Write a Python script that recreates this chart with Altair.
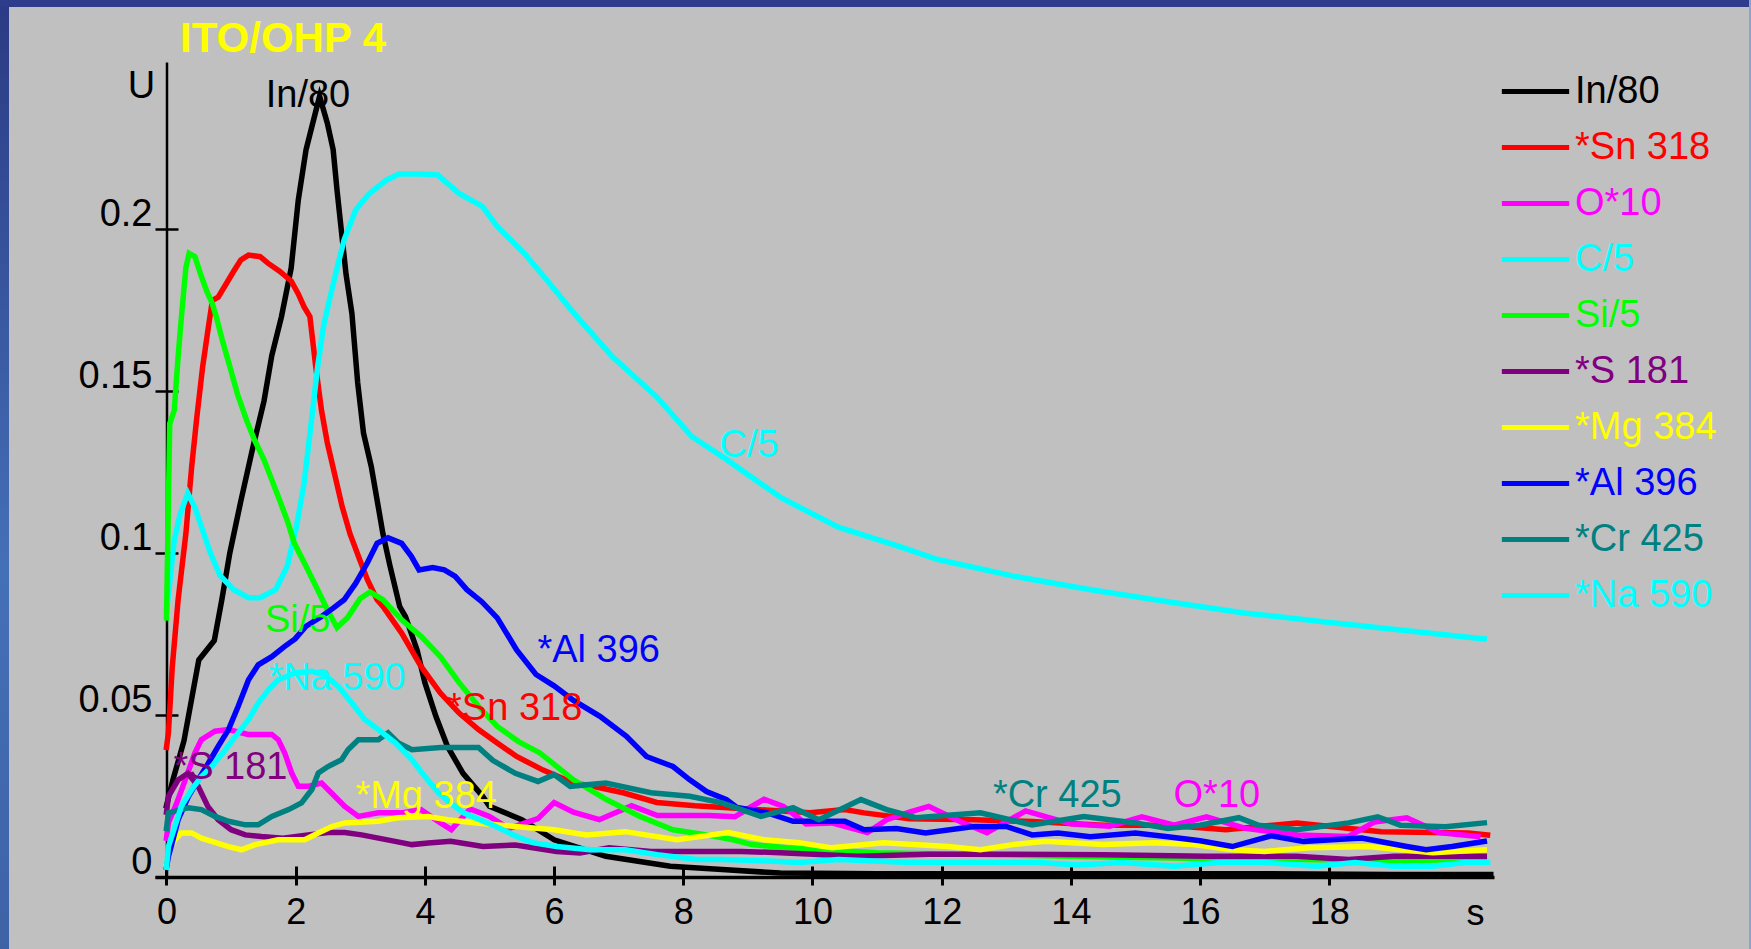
import altair as alt
import pandas as pd

# Series names (legend order) and their line colours
SERIES = ["In/80", "*Sn 318", "O*10", "C/5", "Si/5", "*S 181", "*Mg 384", "*Al 396", "*Cr 425", "*Na 590"]
COLORS = ["#000000", "#FF0000", "#FF00FF", "#00FFFF", "#00FF00", "#800080", "#FFFF00", "#0000FF", "#008080", "#00FFFF"]

# Time (s) and intensity (U) for each series
T_IN = [0, 0.1, 0.27, 0.5, 0.74, 0.86, 0.98, 1.15, 1.33, 1.51, 1.63, 1.78, 1.93, 2.04, 2.16, 2.25, 2.37, 2.49, 2.58, 2.64,
        2.70, 2.78, 2.87, 2.96, 3.05, 3.17, 3.26, 3.35, 3.46, 3.61, 3.70, 3.88, 4.0, 4.17, 4.35, 4.59, 4.89, 5.0, 5.5, 6.0,
        6.8, 7.8, 8.6, 9.5, 11, 13, 15, 17, 19, 20.5]
V_IN = [0.022, 0.03, 0.042, 0.067, 0.073, 0.086, 0.100, 0.116, 0.132, 0.147, 0.161, 0.173, 0.188, 0.209, 0.2245, 0.2316,
        0.241, 0.2327, 0.2245, 0.212, 0.2008, 0.186, 0.174, 0.1525, 0.137, 0.1267, 0.1164, 0.106, 0.096, 0.0835, 0.0804,
        0.070, 0.060, 0.0496, 0.0403, 0.032, 0.025, 0.0218, 0.0177, 0.0115, 0.0064, 0.0033, 0.0023, 0.0012, 0.001, 0.001,
        0.001, 0.001, 0.0008, 0.0008]

T_SN = [0, 0.03, 0.09, 0.18, 0.30, 0.39, 0.47, 0.56, 0.65, 0.71, 0.80, 0.92, 1.04, 1.15, 1.27, 1.45, 1.57, 1.75, 1.93, 2.04,
        2.13, 2.22, 2.31, 2.40, 2.49, 2.6, 2.72, 2.84, 2.99, 3.11, 3.26, 3.35, 3.64, 3.94, 4.24, 4.53, 4.83, 5.12, 5.42, 5.83,
        6.3, 6.6, 7.07, 7.59, 8.18, 9.0, 9.96, 10.5, 10.8, 11.5, 12.5, 13.4, 14.5, 15.5, 16.4, 17.5, 18.8, 20.15, 20.45]
V_SN = [0.04, 0.0445, 0.065, 0.0856, 0.106, 0.1267, 0.142, 0.1576, 0.170, 0.178, 0.179, 0.183, 0.187, 0.1905, 0.192, 0.1915,
        0.1895, 0.187, 0.184, 0.180, 0.176, 0.173, 0.1576, 0.144, 0.134, 0.1246, 0.1143, 0.106, 0.098, 0.0918, 0.0856, 0.0835,
        0.0753, 0.065, 0.0568, 0.0506, 0.0455, 0.0414, 0.0372, 0.033, 0.029, 0.028, 0.026, 0.023, 0.022, 0.021, 0.0198,
        0.0208, 0.0198, 0.018, 0.0177, 0.0171, 0.016, 0.016, 0.0146, 0.0167, 0.014, 0.0136, 0.013]

T_O = [0, 0.03, 0.16, 0.29, 0.44, 0.54, 0.75, 0.96, 1.26, 1.63, 1.73, 1.83, 1.94, 2.04, 2.19, 2.40, 2.55, 2.76, 2.97, 3.28,
       3.64, 3.94, 4.24, 4.41, 4.7, 5.0, 5.3, 5.75, 6.0, 6.3, 6.7, 7.2, 7.6, 8.4, 8.8, 9.06, 9.25, 9.55, 9.9, 10.3, 10.85,
       11.15, 11.5, 11.8, 12.3, 12.7, 13.3, 14.0, 14.6, 15.1, 15.6, 16.1, 16.7, 17.5, 18.3, 18.7, 19.2, 19.7, 20.3]
V_O = [0.012, 0.0167, 0.0229, 0.030, 0.0383, 0.0424, 0.045, 0.0455, 0.044, 0.044, 0.0424, 0.0383, 0.032, 0.028, 0.028, 0.029,
       0.026, 0.0218, 0.0187, 0.0198, 0.0198, 0.0208, 0.0167, 0.0146, 0.021, 0.0187, 0.015, 0.018, 0.023, 0.020, 0.0177,
       0.022, 0.019, 0.019, 0.0186, 0.0218, 0.024, 0.0218, 0.0164, 0.0167, 0.0137, 0.0177, 0.020, 0.0218, 0.017, 0.0137,
       0.0204, 0.0164, 0.0157, 0.0186, 0.016, 0.0186, 0.015, 0.013, 0.0125, 0.017, 0.0183, 0.0137, 0.0125]

T_C = [0, 0.12, 0.21, 0.33, 0.44, 0.56, 0.68, 0.83, 1.04, 1.27, 1.45, 1.69, 1.87, 2.01, 2.13, 2.25, 2.34, 2.43, 2.52, 2.64,
       2.75, 2.93, 3.14, 3.41, 3.6, 3.94, 4.2, 4.53, 4.89, 5.12, 5.54, 5.9, 6.31, 6.9, 7.6, 8.13, 8.66, 9.52, 10.4, 11.35,
       11.94, 13.13, 14.31, 15.5, 16.68, 17.87, 19.06, 20.4]
V_C = [0.082, 0.104, 0.112, 0.1185, 0.114, 0.107, 0.100, 0.093, 0.0887, 0.0862, 0.0862, 0.0887, 0.096, 0.108, 0.1216, 0.142,
       0.1576, 0.170, 0.178, 0.188, 0.1967, 0.206, 0.211, 0.2152, 0.217, 0.217, 0.2167, 0.211, 0.207, 0.2008, 0.1925, 0.184,
       0.174, 0.1607, 0.148, 0.136, 0.129, 0.117, 0.108, 0.102, 0.098, 0.0928, 0.0887, 0.085, 0.0815, 0.0789, 0.0763, 0.0735]

T_SI = [0, 0.05, 0.12, 0.18, 0.24, 0.30, 0.35, 0.44, 0.53, 0.62, 0.71, 0.77, 0.86, 0.98, 1.10, 1.24, 1.36, 1.51, 1.63, 1.75,
        1.87, 1.98, 2.16, 2.34, 2.49, 2.64, 2.8, 3.0, 3.15, 3.35, 3.64, 3.94, 4.24, 4.53, 4.83, 5.12, 5.45, 5.78, 6.3, 6.81,
        7.33, 7.84, 8.36, 8.77, 9.06, 9.6, 11, 13, 15, 17, 19, 20.4]
V_SI = [0.08, 0.14, 0.144, 0.1607, 0.175, 0.188, 0.1925, 0.1915, 0.186, 0.181, 0.177, 0.173, 0.166, 0.1576, 0.149, 0.141,
        0.135, 0.1288, 0.1226, 0.1164, 0.110, 0.103, 0.0959, 0.0887, 0.0825, 0.077, 0.080, 0.086, 0.088, 0.0856, 0.0794,
        0.0743, 0.068, 0.060, 0.0527, 0.0465, 0.0418, 0.0383, 0.030, 0.0239, 0.0187, 0.0146, 0.013, 0.0115, 0.010, 0.009,
        0.0075, 0.0068, 0.006, 0.0055, 0.005, 0.0055]

T_S = [0, 0.03, 0.18, 0.33, 0.49, 0.64, 0.8, 1.0, 1.22, 1.47, 1.8, 2.19, 2.5, 2.76, 3.02, 3.28, 3.54, 3.8, 4.05, 4.4, 4.9,
       5.4, 6.04, 6.4, 6.85, 7.5, 8.9, 9.5, 10.7, 11.8, 13.0, 14.5, 16.1, 17.5, 18.3, 19.0, 20.4]
V_S = [0.02, 0.0249, 0.030, 0.032, 0.028, 0.0218, 0.0177, 0.0146, 0.013, 0.0125, 0.012, 0.013, 0.0137, 0.0137, 0.013, 0.012,
       0.011, 0.010, 0.0105, 0.011, 0.0094, 0.0099, 0.0079, 0.0074, 0.009, 0.0079, 0.0079, 0.0075, 0.0064, 0.007, 0.007,
       0.0069, 0.0064, 0.0064, 0.0054, 0.0064, 0.0064]

T_MG = [0, 0.05, 0.13, 0.23, 0.39, 0.54, 0.70, 0.96, 1.16, 1.37, 1.73, 2.14, 2.35, 2.56, 2.76, 3.28, 3.58, 4.05, 4.35, 4.8,
        5.4, 6.0, 6.5, 7.1, 7.9, 8.7, 9.25, 9.8, 10.3, 11.1, 12.1, 12.6, 13.1, 13.6, 14.5, 15.3, 15.9, 16.5, 17.0, 17.7,
        18.6, 19.6, 20.4]
V_MG = [0.004, 0.009, 0.0115, 0.0136, 0.0136, 0.012, 0.011, 0.0094, 0.0084, 0.010, 0.0115, 0.0115, 0.0136, 0.0156, 0.0167,
        0.0172, 0.0183, 0.0187, 0.0177, 0.0167, 0.0156, 0.0146, 0.013, 0.014, 0.0115, 0.0137, 0.0115, 0.0106, 0.009, 0.0106,
        0.0094, 0.0084, 0.010, 0.011, 0.010, 0.0106, 0.010, 0.0084, 0.0079, 0.009, 0.0094, 0.0075, 0.0084]

T_AL = [0, 0.03, 0.1, 0.18, 0.34, 0.49, 0.65, 0.80, 0.96, 1.11, 1.27, 1.42, 1.63, 1.83, 1.99, 2.16, 2.4, 2.58, 2.75, 2.93,
        3.11, 3.26, 3.43, 3.64, 3.79, 3.91, 4.12, 4.3, 4.47, 4.65, 4.88, 5.12, 5.42, 5.72, 6.0, 6.3, 6.71, 7.12, 7.43, 7.84,
        8.1, 8.36, 8.67, 8.83, 9.3, 9.7, 10.5, 10.8, 11.3, 11.75, 12.5, 13.0, 13.4, 13.8, 14.3, 15.0, 15.5, 16.0, 16.5, 17.1,
        17.6, 18.5, 19.2, 19.5, 19.9, 20.4]
V_AL = [0.003, 0.0064, 0.0115, 0.0177, 0.0249, 0.030, 0.0352, 0.0403, 0.0455, 0.0527, 0.0609, 0.0655, 0.068, 0.0712, 0.0735,
        0.0774, 0.0804, 0.0830, 0.0856, 0.0907, 0.097, 0.103, 0.1047, 0.103, 0.099, 0.0948, 0.0955, 0.0948, 0.0928, 0.0887,
        0.085, 0.080, 0.0701, 0.0625, 0.059, 0.0545, 0.0496, 0.0434, 0.0372, 0.0341, 0.030, 0.0264, 0.0239, 0.0215, 0.0198,
        0.0172, 0.0172, 0.0146, 0.015, 0.0136, 0.0156, 0.0156, 0.013, 0.0136, 0.0124, 0.0136, 0.0124, 0.0112, 0.0094, 0.0127,
        0.011, 0.012, 0.0094, 0.0084, 0.0094, 0.011]

T_CR = [0, 0.03, 0.34, 0.54, 0.75, 0.96, 1.22, 1.42, 1.63, 1.89, 2.09, 2.25, 2.35, 2.5, 2.71, 2.81, 2.97, 3.28, 3.43, 3.59,
        3.8, 4.24, 4.83, 5.05, 5.4, 5.75, 6.0, 6.25, 6.8, 7.5, 8.1, 8.6, 9.2, 9.7, 10.1, 10.75, 11.15, 11.6, 12.6, 13.4,
        14.2, 15.0, 15.5, 16.0, 16.6, 16.9, 17.5, 18.3, 18.75, 19.1, 19.8, 20.4]
V_CR = [0.015, 0.0198, 0.0214, 0.0208, 0.0187, 0.0172, 0.0161, 0.0161, 0.0187, 0.0208, 0.0229, 0.027, 0.0321, 0.0341, 0.0362,
        0.0393, 0.0424, 0.0424, 0.0445, 0.0414, 0.0393, 0.040, 0.040, 0.036, 0.032, 0.0295, 0.0316, 0.028, 0.029, 0.026,
        0.0249, 0.0229, 0.0187, 0.0214, 0.0177, 0.0239, 0.0208, 0.0183, 0.0198, 0.0161, 0.0187, 0.0167, 0.015, 0.016, 0.0183,
        0.016, 0.0146, 0.0167, 0.0186, 0.016, 0.0155, 0.0167]

T_NA = [0, 0.03, 0.13, 0.23, 0.39, 0.54, 0.70, 0.91, 1.11, 1.27, 1.42, 1.58, 1.73, 1.99, 2.25, 2.45, 2.66, 2.87, 3.07, 3.28,
        3.54, 3.8, 4.0, 4.21, 4.39, 4.6, 4.85, 5.1, 5.42, 5.67, 6.04, 6.56, 7.1, 7.6, 8.2, 8.6, 9.2, 9.8, 10.4, 11.5, 12.5,
        13.5, 14.1, 14.8, 15.6, 16.3, 17.0, 17.8, 18.4, 19.0, 19.6, 20.1, 20.45]
V_NA = [0.003, 0.0094, 0.0156, 0.0218, 0.027, 0.031, 0.0341, 0.0393, 0.0445, 0.0486, 0.0537, 0.0578, 0.0609, 0.063, 0.0635,
        0.0624, 0.0588, 0.0537, 0.0486, 0.0455, 0.0414, 0.0362, 0.031, 0.026, 0.0229, 0.0198, 0.0177, 0.0156, 0.0125, 0.0106,
        0.0094, 0.0084, 0.0084, 0.0069, 0.0054, 0.0054, 0.005, 0.0045, 0.0054, 0.0045, 0.0045, 0.0045, 0.0037, 0.0045, 0.0033,
        0.0045, 0.0045, 0.0033, 0.0045, 0.0033, 0.0033, 0.0045, 0.0045]

# In-plot series labels and where they sit (t, U)
LABEL_TEXT = ["In/80", "C/5", "Si/5", "*Na 590", "*Sn 318", "*Al 396", "*S 181", "*Mg 384", "*Cr 425", "O*10"]
LABEL_T = [2.19, 9.02, 2.03, 2.64, 5.39, 6.69, 0.99, 4.02, 13.79, 16.26]
LABEL_V = [0.2411, 0.1331, 0.0791, 0.0612, 0.0520, 0.0698, 0.0337, 0.0248, 0.0251, 0.0249]

X_TICKS = [0, 2, 4, 6, 8, 10, 12, 14, 16, 18]
Y_TICKS = [0, 0.05, 0.1, 0.15, 0.2]

T_ALL = [T_IN, T_SN, T_O, T_C, T_SI, T_S, T_MG, T_AL, T_CR, T_NA]
V_ALL = [V_IN, V_SN, V_O, V_C, V_SI, V_S, V_MG, V_AL, V_CR, V_NA]

rows = []
for name, ts, vs in zip(SERIES, T_ALL, V_ALL):
    for t, v in zip(ts, vs):
        rows.append({"series": name, "t": t, "v": v})
df = pd.DataFrame(rows)
labels_df = pd.DataFrame({"series": LABEL_TEXT, "t": LABEL_T, "v": LABEL_V})

PLOT_W, PLOT_H = 1339, 815
PAD = {"left": 155, "top": 62, "right": 257, "bottom": 72}
FONT = "Liberation Sans"
BG = "#C0C0C0"

x_scale = alt.Scale(domain=[-0.178, 20.55], nice=False, zero=False)
y_scale = alt.Scale(domain=[0, 0.2516], nice=False, zero=False)
color_scale = alt.Scale(domain=SERIES, range=COLORS)

label_color_expr = " : ".join(
    f"datum.label == '{s}' ? '{c}'" for s, c in zip(SERIES, COLORS)
) + " : 'black'"

x_axis = alt.Axis(
    orient="bottom", values=X_TICKS, format="d", grid=False,
    domainColor="black", domainWidth=3.5, tickColor="black", tickWidth=3, tickSize=8,
    labelFont=FONT, labelFontSize=36, labelColor="black", labelPadding=10,
    labelFlush=False, labelOverlap=False, labelBound=False,
    title="s", titleFont=FONT, titleFontSize=36, titleFontWeight="normal", titleColor="black",
    titleAngle=0, titleAlign="center", titleBaseline="alphabetic", titleX=1320, titleY=47,
)
y_axis = alt.Axis(
    orient="left", offset=-11.5, values=Y_TICKS, format=".2~f", grid=False,
    domainColor="black", domainWidth=2.5, tickColor="black", tickWidth=2.5, tickSize=11.5,
    labelFont=FONT, labelFontSize=38, labelColor="black", labelPadding=3, labelOffset=-15,
    labelOverlap=False, labelBound=False,
    title="U", titleFont=FONT, titleFontSize=38, titleFontWeight="normal", titleColor="black",
    titleAngle=0, titleAlign="center", titleBaseline="alphabetic", titleX=-25.5, titleY=35,
)

legend = alt.Legend(
    title=None, orient="none", legendX=1344, legendY=-7, padding=0,
    symbolType="stroke", symbolSize=4530, symbolStrokeWidth=5,
    labelFont=FONT, labelFontSize=38, labelOffset=3, labelLimit=0,
    labelColor={"expr": label_color_expr}, rowPadding=0,
)

lines = alt.Chart(df).mark_line(strokeWidth=5.5, strokeJoin="miter", strokeCap="square").encode(
    x=alt.X("t:Q", scale=x_scale, axis=x_axis),
    y=alt.Y("v:Q", scale=y_scale, axis=y_axis),
    color=alt.Color("series:N", scale=color_scale, legend=legend, sort=SERIES),
    detail="series:N",
    order="t:Q",
)

# inward halves of the tick marks, drawn by a second pair of axes
inner_ticks = alt.Chart(df).mark_point(opacity=0, size=1).encode(
    x=alt.X("t:Q", scale=x_scale, axis=alt.Axis(
        orient="top", offset=-PLOT_H, values=X_TICKS, labels=False, domain=False, grid=False,
        tickColor="black", tickWidth=3, tickSize=11, title=None)),
    y=alt.Y("v:Q", scale=y_scale, axis=alt.Axis(
        orient="right", offset=-(PLOT_W - 11.5), values=Y_TICKS, labels=False, domain=False, grid=False,
        tickColor="black", tickWidth=2.5, tickSize=11.5, title=None)),
)

texts = alt.Chart(labels_df).mark_text(font=FONT, fontSize=38, align="center", baseline="middle").encode(
    x=alt.X("t:Q", scale=x_scale, axis=None),
    y=alt.Y("v:Q", scale=y_scale, axis=None),
    text="series:N",
    color=alt.Color("series:N", scale=color_scale, legend=None),
)

# window frame strips
frame_left = alt.Chart(pd.DataFrame({"k": [0]})).mark_rect(
    color={"gradient": "linear", "x1": 0, "y1": 0, "x2": 0, "y2": 1,
           "stops": [{"offset": 0, "color": "#2B3A84"}, {"offset": 0.6, "color": "#4470B8"},
                     {"offset": 1, "color": "#3E62A6"}]}
).encode(x=alt.value(-155), x2=alt.value(-146), y=alt.value(-62), y2=alt.value(PLOT_H + 72))
frame_top = alt.Chart(pd.DataFrame({"k": [0]})).mark_rect(color="#2E3C8C").encode(
    x=alt.value(-155), x2=alt.value(PLOT_W + 257), y=alt.value(-62), y2=alt.value(-55))
frame_right = alt.Chart(pd.DataFrame({"k": [0]})).mark_rect(color="#8EA2CE").encode(
    x=alt.value(PLOT_W + 255), x2=alt.value(PLOT_W + 257), y=alt.value(-62), y2=alt.value(PLOT_H + 72))

chart = alt.layer(frame_left, frame_top, frame_right, lines, texts, inner_ticks).resolve_axis(
    x="independent", y="independent"
).properties(
    width=PLOT_W, height=PLOT_H,
    autosize=alt.AutoSizeParams(type="none"),
    padding=PAD, background=BG,
    title=alt.Title("ITO/OHP 4", anchor="start", frame="group", dx=25, dy=104, offset=10,
                    color="#FFFF00", font=FONT, fontSize=42, fontWeight="bold", baseline="alphabetic"),
).configure_view(stroke=None, fill=BG)

chart.save("out.html", embed_options={"renderer": "svg", "actions": False})
